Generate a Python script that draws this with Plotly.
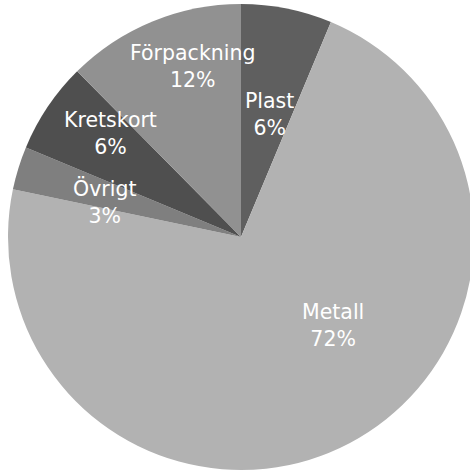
import math
import plotly.graph_objects as go

labels = ["Plast", "Metall", "Övrigt", "Kretskort", "Förpackning"]
values = [6.3, 71.9, 3.0, 6.3, 12.4]
colors = ["#5f5f5f", "#b2b2b2", "#7f7f7f", "#4f4f4f", "#919191"]

# label placement style: fraction of radius and angular nudge (degrees) from slice mid-angle
label_rfrac = [0.55, 0.54, 0.605, 0.72, 0.77]
label_nudge = [1.7, -19.0, -2.2, 5.0, 6.6]

W, H = 474, 471
ML, MR, MT, MB = 8, 0, 4, 1
PW, PH = W - ML - MR, H - MT - MB
R = min(PW, PH) / 2

fig = go.Figure(go.Pie(
    labels=labels,
    values=values,
    sort=False,
    direction="clockwise",
    rotation=0,
    marker=dict(colors=colors, line=dict(width=0)),
    textinfo="none",
    showlegend=False,
    hoverinfo="skip",
))

total = sum(values)
cum = 0.0
annotations = []
for lab, v, fr, nd in zip(labels, values, label_rfrac, label_nudge):
    mid = (cum + v / 2) / total * 360.0 + nd
    cum += v
    d = fr * R
    th = math.radians(mid)
    x = 0.5 + d * math.sin(th) / PW
    y = 0.5 + d * math.cos(th) / PH - 2.0 / PH
    pct = round(v / total * 100)
    annotations.append(dict(
        x=x, y=y, xref="paper", yref="paper",
        text=f"{lab}<br>{pct}%",
        showarrow=False,
        xanchor="center", yanchor="middle",
        font=dict(family="DejaVu Sans", size=20.5, color="white"),
    ))

fig.update_layout(
    width=W, height=H,
    margin=dict(l=ML, r=MR, t=MT, b=MB),
    paper_bgcolor="white",
    plot_bgcolor="white",
    annotations=annotations,
)

fig.write_html(
    "out.html",
    config={"displayModeBar": False},
    post_script="document.body.style.margin='0';document.body.style.overflow='hidden';",
)
